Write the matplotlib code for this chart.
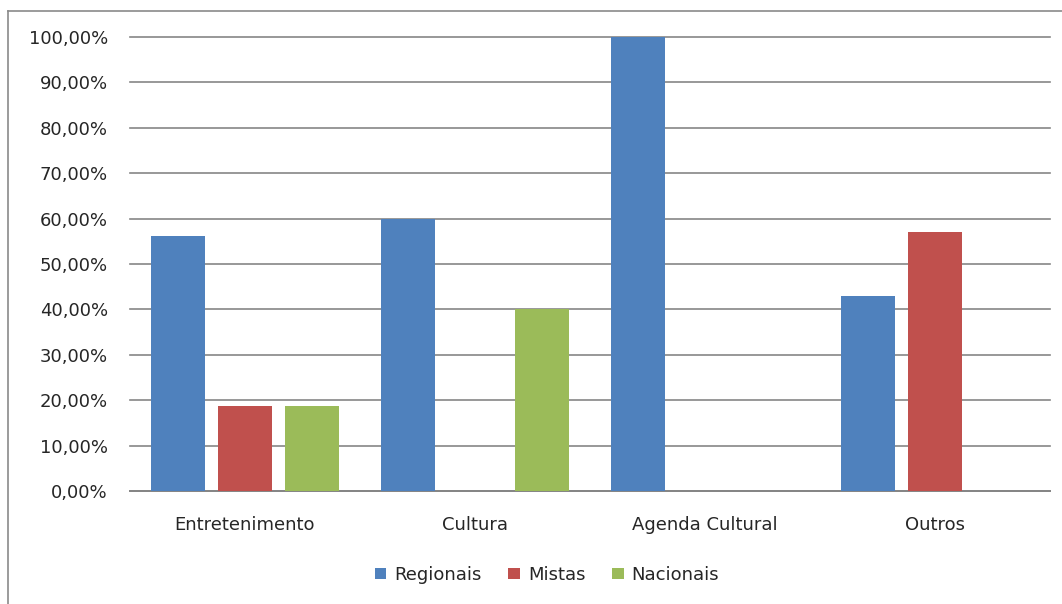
import numpy as np
import matplotlib
matplotlib.use("Agg")
import matplotlib.pyplot as plt
from matplotlib.ticker import FuncFormatter
from matplotlib.lines import Line2D

# --- dados ---
categorias = ["Entretenimento", "Cultura", "Agenda Cultural", "Outros"]
regionais = [0.5625, 0.60, 1.00, 0.4286]
mistas = [0.1875, 0.0, 0.0, 0.5714]
nacionais = [0.1875, 0.40, 0.0, 0.0]
series_nomes = ["Regionais", "Mistas", "Nacionais"]
cores = ["#4F81BD", "#C0504D", "#9BBB59"]

plt.rcParams["font.family"] = ["DejaVu Sans"]
W, H = 1062, 604
fig = plt.figure(figsize=(W / 100, H / 100), dpi=100)
fig.patch.set_facecolor("white")

# area do grafico (pixels da referencia)
left, right, top, bottom = 130, 1050, 37, 491
ax = fig.add_axes([left / W, (H - bottom) / H, (right - left) / W, (bottom - top) / H])

x = np.arange(len(categorias))
desloc = 0.29
larg = 0.235
for i, (vals, nome, cor) in enumerate(zip([regionais, mistas, nacionais], series_nomes, cores)):
    ax.bar(x + (i - 1) * desloc, vals, width=larg, color=cor, label=nome, zorder=3)

ax.set_xlim(-0.5, len(categorias) - 0.5)
ax.set_ylim(0, 1.0)
ax.set_yticks(np.arange(0, 1.01, 0.1))
ax.yaxis.set_major_formatter(FuncFormatter(lambda v, p: f"{v * 100:.2f}%".replace(".", ",")))
ax.set_xticks(x)
ax.set_xticklabels(categorias)
ax.grid(axis="y", color="#868686", linewidth=1.2, zorder=0)
for gl in ax.get_ygridlines():
    gl.set_clip_on(False)
for s in ["top", "right", "left"]:
    ax.spines[s].set_visible(False)
ax.spines["bottom"].set_color("#868686")
ax.spines["bottom"].set_linewidth(1.4)
ax.tick_params(axis="y", length=0, pad=16, labelsize=13, labelcolor="#262626")
ax.tick_params(axis="x", length=0, pad=18, labelsize=13, labelcolor="#262626")

fig.legend(loc="center", bbox_to_anchor=(547 / W, (H - 575) / H), ncol=3, frameon=False,
           fontsize=13, handlelength=0.62, handleheight=0.62, handletextpad=0.45,
           columnspacing=1.5, labelcolor="#262626")

# moldura externa
fig.add_artist(Line2D([8 / W, 8 / W], [0, (H - 11) / H], color="#8a8a8a", linewidth=1.2))
fig.add_artist(Line2D([8 / W, 1], [(H - 11) / H, (H - 11) / H], color="#8a8a8a", linewidth=1.2))

fig.savefig("out.png", dpi=100)
